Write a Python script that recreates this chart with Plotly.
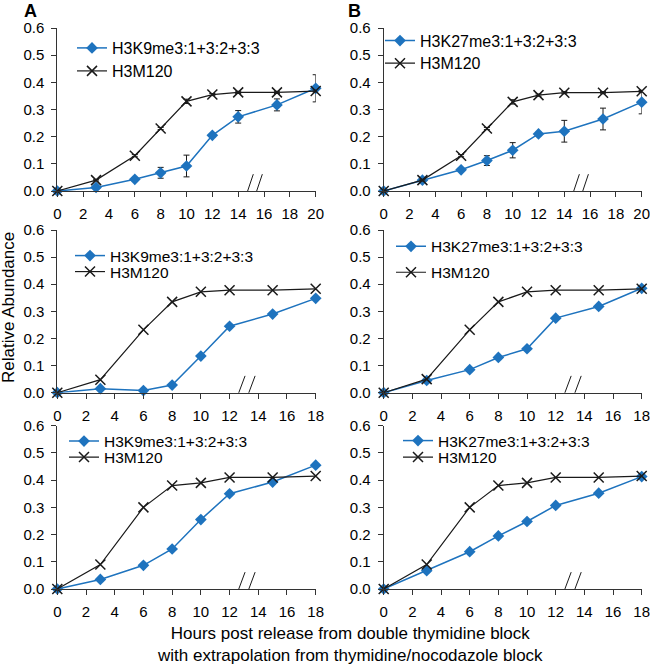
import plotly.graph_objects as go

W, H = 650, 664

# ---------------- data ----------------
hours_row1 = [0, 3, 6, 8, 10, 12, 14, 17, 20]
hours_row23 = [0, 3, 6, 8, 10, 12, 15, 18]

k9_row1 = [0.0, 0.013, 0.043, 0.067, 0.092, 0.205, 0.273, 0.317, 0.378]
k9_row1_err = [0.0, 0.005, 0.006, 0.02, 0.04, 0.007, 0.023, 0.022, 0.05]
m120_a_row1 = [0.0, 0.04, 0.13, 0.23, 0.33, 0.355, 0.363, 0.363, 0.368]
m120_a_row1_err = [0.0, 0.003, 0.004, 0.004, 0.008, 0.004, 0.004, 0.004, 0.004]

k27_row1 = [0.0, 0.04, 0.078, 0.112, 0.15, 0.21, 0.22, 0.265, 0.327]
k27_row1_err = [0.0, 0.004, 0.005, 0.018, 0.028, 0.006, 0.04, 0.04, 0.043]
m120_b_row1 = [0.0, 0.04, 0.13, 0.23, 0.328, 0.353, 0.362, 0.362, 0.367]
m120_b_row1_err = [0.0, 0.003, 0.004, 0.004, 0.008, 0.004, 0.004, 0.004, 0.004]

k9_row2 = [0.0, 0.015, 0.008, 0.028, 0.135, 0.245, 0.29, 0.348]
m120_a_row2 = [0.0, 0.048, 0.232, 0.335, 0.372, 0.378, 0.378, 0.383]
k27_row2 = [0.0, 0.045, 0.085, 0.13, 0.162, 0.275, 0.318, 0.385]
m120_b_row2 = [0.0, 0.05, 0.232, 0.335, 0.372, 0.378, 0.378, 0.383]

k9_row3 = [0.0, 0.035, 0.087, 0.147, 0.255, 0.35, 0.393, 0.455]
m120_a_row3 = [0.0, 0.09, 0.30, 0.38, 0.39, 0.41, 0.41, 0.415]
k27_row3 = [0.0, 0.067, 0.137, 0.195, 0.248, 0.307, 0.352, 0.413]
m120_b_row3 = [0.0, 0.09, 0.30, 0.38, 0.39, 0.41, 0.41, 0.415]

name_k9 = "H3K9me3:1+3:2+3:3"
name_k27 = "H3K27me3:1+3:2+3:3"
name_m120 = "H3M120"

x_max_row1 = 20
x_max_row23 = 18
break_row1 = 15.17
break_row23 = 13.08

# ---------------- styling ----------------
BLUE = "#1E73BE"
BLACK = "#1a1a1a"
AXIS = "#333333"
FONT = "Liberation Sans, Arial, sans-serif"

col_px = {"A": (57.3, 315.7), "B": (383.7, 641.7)}
row_px = [(28.0, 191.0), (230.0, 392.7), (425.7, 589.0)]

panels = [
    # (row, col, x, blue, blue_err, black, black_err, blue_name, xmax, break, legend px)
    (0, "A", hours_row1, k9_row1, k9_row1_err, m120_a_row1, m120_a_row1_err, name_k9, x_max_row1, break_row1, (72, 48, 71, 16)),
    (0, "B", hours_row1, k27_row1, k27_row1_err, m120_b_row1, m120_b_row1_err, name_k27, x_max_row1, break_row1, (380, 40.7, 63.3, 16)),
    (1, "A", hours_row23, k9_row2, None, m120_a_row2, None, name_k9, x_max_row23, break_row23, (70, 256, 272, 15.5)),
    (1, "B", hours_row23, k27_row2, None, m120_b_row2, None, name_k27, x_max_row23, break_row23, (391, 246.7, 272.7, 15.5)),
    (2, "A", hours_row23, k9_row3, None, m120_a_row3, None, name_k9, x_max_row23, break_row23, (64, 441.5, 457.5, 15.5)),
    (2, "B", hours_row23, k27_row3, None, m120_b_row3, None, name_k27, x_max_row23, break_row23, (398, 441, 457.5, 15.5)),
]

fig = go.Figure()
layout = dict(
    template="none",
    width=W, height=H, autosize=False,
    margin=dict(l=0, r=0, t=0, b=0, pad=0),
    paper_bgcolor="white", plot_bgcolor="white",
    font=dict(family=FONT, color="black", size=15),
    showlegend=True,
)
shapes = []
leg_idx = 0

def legend_key(i):
    return "legend" if i == 0 else f"legend{i + 1}"

for k, (row, col, xs, blue, blue_err, black, black_err, bname, xmax, brk, legpx) in enumerate(panels):
    ax = "" if k == 0 else str(k + 1)
    xref, yref = "x" + ax, "y" + ax
    x0p, x1p = col_px[col]
    y0p, y1p = row_px[row]
    layout["xaxis" + ax] = dict(
        domain=[x0p / W, x1p / W], anchor=yref, range=[0, xmax], dtick=2, tick0=0,
        showline=True, linecolor=AXIS, linewidth=1, ticks="outside", ticklen=5,
        tickcolor=AXIS, tickwidth=1, showgrid=False, zeroline=False, automargin=False,
        tickfont=dict(size=15, family=FONT, color="black"), ticklabelstandoff=4,
        ticklabeloverflow="allow",
    )
    layout["yaxis" + ax] = dict(
        domain=[1 - y1p / H, 1 - y0p / H], anchor=xref, range=[0, 0.6], dtick=0.1, tick0=0,
        tickformat=".1f", showline=True, linecolor=AXIS, linewidth=1, ticks="outside",
        ticklen=5, tickcolor=AXIS, tickwidth=1, showgrid=False, zeroline=False, automargin=False,
        tickfont=dict(size=15, family=FONT, color="black"), ticklabelstandoff=4,
        ticklabeloverflow="allow",
    )
    L, yc1, yc2, fsz = legpx
    for j, (yc) in enumerate([yc1, yc2]):
        layout[legend_key(leg_idx + j)] = dict(
            x=L / W, y=1 - yc / H, xanchor="left", yanchor="middle",
            bgcolor="rgba(0,0,0,0)", borderwidth=0,
            font=dict(size=fsz, family=FONT, color="black"),
        )
    fig.add_trace(go.Scatter(
        x=xs, y=blue, name=bname, mode="lines+markers",
        line=dict(color=BLUE, width=1.5),
        marker=dict(symbol="diamond", size=9, color=BLUE),
        error_y=(dict(type="data", array=blue_err, color=BLACK, thickness=1, width=3)
                 if blue_err is not None else None),
        xaxis=xref, yaxis=yref, cliponaxis=False,
        legend=legend_key(leg_idx),
    ))
    fig.add_trace(go.Scatter(
        x=xs, y=black, name=name_m120, mode="lines+markers",
        line=dict(color=BLACK, width=1.2),
        marker=dict(symbol="x-thin-open", size=10, color=BLACK, line=dict(width=1.5, color=BLACK)),
        error_y=(dict(type="data", array=black_err, color=BLACK, thickness=1, width=3)
                 if black_err is not None else None),
        xaxis=xref, yaxis=yref, cliponaxis=False,
        legend=legend_key(leg_idx + 1),
    ))
    leg_idx += 2
    # axis break marks "//"
    for off in (-0.7, 0.0):
        shapes.append(dict(
            type="line", xref=xref, yref=yref,
            x0=brk + off, y0=-0.037, x1=brk + off + 0.7, y1=0.062,
            line=dict(color=BLACK, width=1),
        ))

layout["shapes"] = shapes
layout["annotations"] = [
    dict(text="<b>A</b>", x=30 / W, y=1.0, xref="paper", yref="paper",
         showarrow=False, font=dict(size=18, family=FONT), xanchor="center", yanchor="top",
         borderpad=0),
    dict(text="<b>B</b>", x=355 / W, y=1.0, xref="paper", yref="paper",
         showarrow=False, font=dict(size=18, family=FONT), xanchor="center", yanchor="top",
         borderpad=0),
    dict(text="Relative Abundance", x=8 / W, y=1 - 308 / H, xref="paper", yref="paper",
         showarrow=False, textangle=-90, font=dict(size=17, family=FONT),
         xanchor="center", yanchor="middle"),
    dict(text="Hours post release from double thymidine block<br>with extrapolation from thymidine/nocodazole block",
         x=350 / W, y=1 - 644 / H, xref="paper", yref="paper", showarrow=False,
         font=dict(size=17, family=FONT), xanchor="center", yanchor="middle", align="center"),
]
fig.update_layout(**layout)
fig.write_html(
    "out.html",
    config={"displayModeBar": False, "responsive": False},
    post_script="document.body.style.margin='0';document.body.style.padding='0';document.body.style.overflow='hidden';",
)
